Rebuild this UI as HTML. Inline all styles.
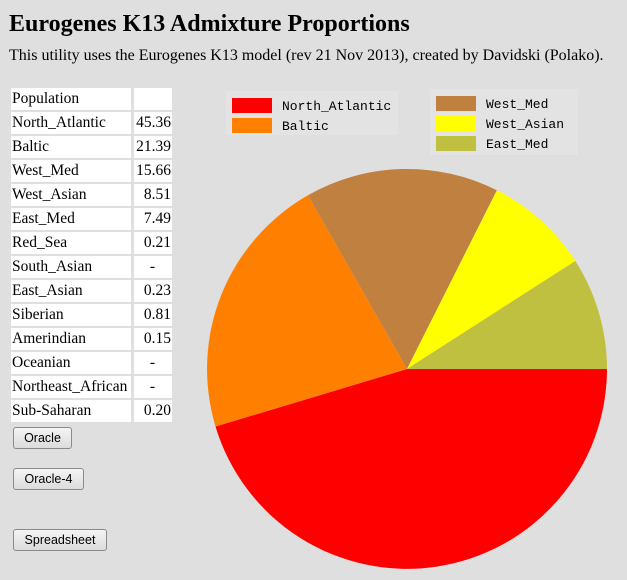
<!DOCTYPE html>
<html><head><style>
body{margin:0;width:627px;height:580px;background:#dfdfdf;font-family:"Liberation Serif",serif;position:relative;overflow:hidden}
h1{position:absolute;left:9px;top:11px;margin:0;font-size:24px;font-weight:bold}
.sub{position:absolute;left:9px;top:47px;font-size:16px}
.c{position:absolute;background:#fff;height:22px;line-height:22px;font-size:15.5px}
.btn{position:absolute;left:13px;height:20px;border:1px solid #8a8a8a;border-radius:3px;background:linear-gradient(#f4f4f4,#dcdcdc);font-family:"Liberation Sans",sans-serif;font-size:12.5px;line-height:20px;text-align:center}
</style></head><body>
<h1>Eurogenes K13 Admixture Proportions</h1>
<div class="sub">This utility uses the Eurogenes K13 model (rev 21 Nov 2013), created by Davidski (Polako).</div>
<div id="t"></div>
<div class="btn" style="top:427px;width:57px">Oracle</div>
<div class="btn" style="top:468px;width:69px">Oracle-4</div>
<div class="btn" style="top:529px;width:92px">Spreadsheet</div>
<svg width="627" height="580" style="position:absolute;left:0;top:0">
<path d="M407,369 L607,369 A200,200 0 0 1 215.5,426.5 Z" fill="#ff0000"/>
<path d="M407,369 L215.5,426.5 A200,200 0 0 1 307.9,195.3 Z" fill="#ff8000"/>
<path d="M407,369 L307.9,195.3 A200,200 0 0 1 496.9,190.3 Z" fill="#c08040"/>
<path d="M407,369 L496.9,190.3 A200,200 0 0 1 575.3,261 Z" fill="#ffff00"/>
<path d="M407,369 L575.3,261 A200,200 0 0 1 607,369 Z" fill="#c0c040"/>
<rect x="226" y="91" width="172" height="44" fill="#e3e3e3"/>
<rect x="430" y="89" width="148" height="66" fill="#e3e3e3"/>
<g font-family="Liberation Mono, monospace" font-size="13" fill="#000">
<rect x="232" y="98" width="40" height="15" fill="#ff0000"/><text x="282" y="110">North_Atlantic</text>
<rect x="232" y="118" width="40" height="15" fill="#ff8000"/><text x="282" y="130">Baltic</text>
<rect x="436" y="96" width="40" height="15" fill="#c08040"/><text x="486" y="108">West_Med</text>
<rect x="436" y="116" width="40" height="15" fill="#ffff00"/><text x="486" y="128">West_Asian</text>
<rect x="436" y="136" width="40" height="15" fill="#c0c040"/><text x="486" y="148">East_Med</text>
</g></svg>
<script>
var d=[["Population",""],["North_Atlantic","45.36"],["Baltic","21.39"],["West_Med","15.66"],["West_Asian","8.51"],["East_Med","7.49"],["Red_Sea","0.21"],["South_Asian","-"],["East_Asian","0.23"],["Siberian","0.81"],["Amerindian","0.15"],["Oceanian","-"],["Northeast_African","-"],["Sub-Saharan","0.20"]];
var h="";d.forEach(function(r,i){var y=88+i*24;
h+='<div class="c" style="left:11px;top:'+y+'px;width:119px;padding-left:1px;white-space:nowrap">'+r[0]+'</div>';
h+='<div class="c" style="left:134px;top:'+y+'px;width:37px;text-align:'+(r[1]=="-"?"center":"right")+';padding-right:1px">'+r[1]+'</div>';});
document.getElementById("t").innerHTML=h;
</script>
</body></html>
